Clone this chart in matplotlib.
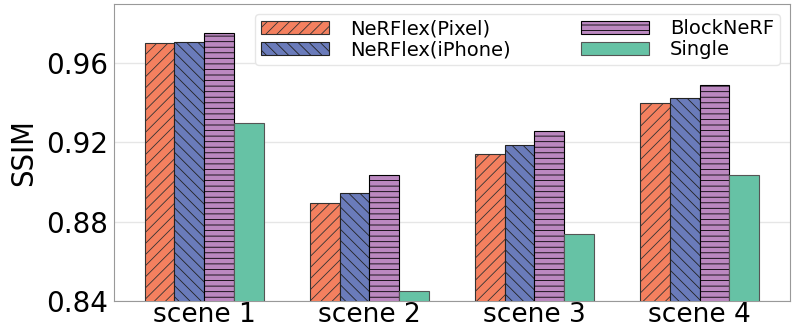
import numpy as np
import matplotlib.pyplot as plt

scenes = ['scene 1', 'scene 2', 'scene 3', 'scene 4']
methods = ['NeRFlex(Pixel)', 'NeRFlex(iPhone)', 'BlockNeRF', 'Single']
pixel = [0.9704, 0.8894, 0.9141, 0.9397]
iphone = [0.9709, 0.8944, 0.9186, 0.9427]
blocknerf = [0.9754, 0.9036, 0.9256, 0.9491]
single = [0.9297, 0.8451, 0.8736, 0.9035]

colors = ['#f4805f', '#6a7bba', '#bb88c0', '#66c2a5']
hatches = ['///', '\\\\\\', '---', '']
edges = ['#333333', '#222222', '#000000', '#555555']

plt.rcParams['hatch.linewidth'] = 0.6
fig, ax = plt.subplots(figsize=(7.97, 3.27), dpi=100)
x = np.arange(len(scenes))
w = 0.18
for i, vals in enumerate([pixel, iphone, blocknerf, single]):
    ax.bar(x + (i - 1.5) * w, vals, w, color=colors[i], hatch=hatches[i],
           edgecolor=edges[i], linewidth=0.8, label=methods[i], zorder=3)

ax.set_ylim(0.84, 0.99)
ax.set_yticks([0.84, 0.88, 0.92, 0.96])
ax.set_yticklabels(['0.84', '0.88', '0.92', '0.96'])
ax.set_xticks(x)
ax.set_xticklabels(scenes)
ax.tick_params(axis='y', labelsize=20, length=0, pad=4)
ax.tick_params(axis='x', labelsize=19, length=0, pad=1)
ax.set_ylabel('SSIM', fontsize=22, fontstretch='condensed', labelpad=6)
ax.grid(axis='y', color='#e6e6e6', linewidth=1, zorder=0)
for s in ax.spines.values():
    s.set_color('#999999')
ax.legend(ncol=2, fontsize=14, loc='upper right', framealpha=1,
          edgecolor='#e6e6e6', columnspacing=3.6, handlelength=3.5,
          handleheight=0.6, handletextpad=1.1, labelspacing=0.1,
          borderaxespad=0.5, borderpad=0.3)
plt.subplots_adjust(left=0.143, right=0.991, top=0.988, bottom=0.08)
plt.savefig('out.png')
